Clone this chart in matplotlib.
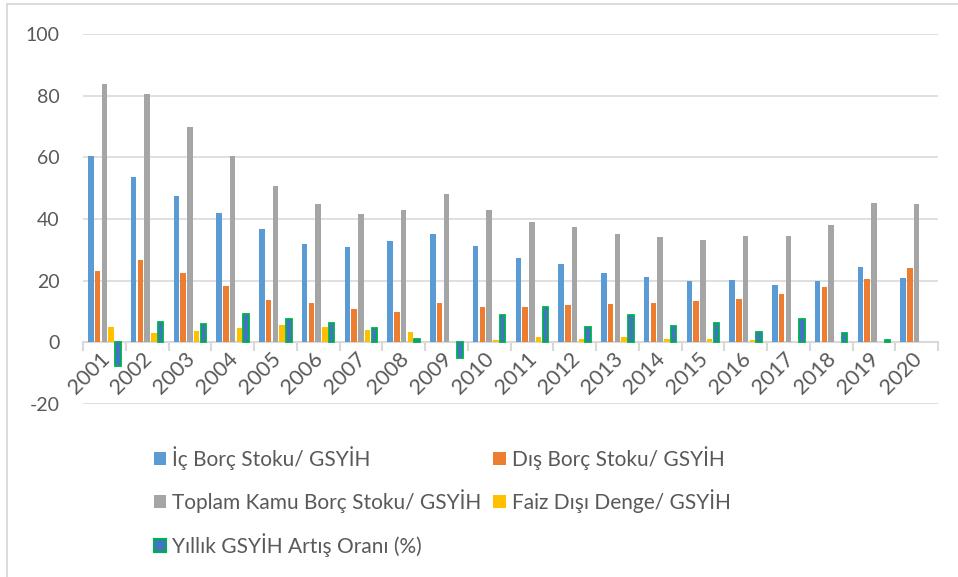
import matplotlib
matplotlib.use("Agg")
import matplotlib.pyplot as plt
import numpy as np
from matplotlib.lines import Line2D
from matplotlib.patches import Patch

years = ["2001", "2002", "2003", "2004", "2005", "2006", "2007", "2008", "2009", "2010",
         "2011", "2012", "2013", "2014", "2015", "2016", "2017", "2018", "2019", "2020"]

ic_borc = [60.4, 53.5, 47.4, 41.9, 36.9, 32.0, 30.8, 32.8, 35.0, 31.4,
           27.4, 25.3, 22.6, 21.3, 19.9, 20.3, 18.6, 20.0, 24.4, 21.0]
dis_borc = [23.2, 26.8, 22.5, 18.4, 13.8, 12.7, 10.7, 10.0, 12.9, 11.3,
            11.3, 12.0, 12.3, 12.9, 13.4, 14.2, 15.8, 17.9, 20.6, 24.1]
toplam_borc = [83.9, 80.6, 69.9, 60.4, 50.7, 44.8, 41.6, 43.0, 48.0, 43.0,
               38.9, 37.5, 35.1, 34.3, 33.3, 34.5, 34.5, 37.9, 45.2, 45.0]
faiz_disi = [5.0, 3.1, 3.8, 4.6, 5.7, 5.1, 3.9, 3.2, 0.1, 0.6,
             1.6, 1.0, 1.6, 1.2, 1.2, 0.6, 0.2, 0.0, 0.0, 0.0]
gsyih_artis = [-7.8, 6.5, 5.9, 9.1, 7.6, 6.3, 4.8, 1.0, -5.0, 8.8,
               11.3, 5.0, 8.8, 5.4, 6.3, 3.3, 7.7, 3.0, 0.9, 0.0]

labels = ["İç Borç Stoku/ GSYİH", "Dış Borç Stoku/ GSYİH",
          "Toplam Kamu Borç Stoku/ GSYİH", "Faiz Dışı Denge/ GSYİH",
          "Yıllık GSYİH Artış Oranı (%)"]
y_ticks = [-20, 0, 20, 40, 60, 80, 100]

W, H = 958, 577
fig = plt.figure(figsize=(W / 100, H / 100), dpi=100)
plt.rcParams['font.family'] = ['Lato', 'DejaVu Sans']
txt = "#595959"
grid_c = "#D9D9D9"

ax = fig.add_axes([83 / W, 1 - 404 / H, (938 - 83) / W, (404 - 34) / H])
x = np.arange(len(years))
step = 0.157
bw = 0.128
series = [ic_borc, dis_borc, toplam_borc, faiz_disi, gsyih_artis]
fills = ["#5B9BD5", "#ED7D31", "#A5A5A5", "#FFC000", "#4472C4"]
edges = ["#5B9BD5", "#ED7D31", "#A5A5A5", "#FFC000", "#00B050"]
lws = [0, 0, 0, 0, 1.3]
for i, (vals, fc, ec, lw) in enumerate(zip(series, fills, edges, lws)):
    v = np.asarray(vals, dtype=float)
    lw_arr = np.where(v == 0, 0.0, lw)
    ax.bar(x + (i - 2) * step, v, width=bw, color=fc, edgecolor=ec,
           linewidth=lw_arr, zorder=3)

ax.set_xlim(-0.5, len(years) - 0.5)
ax.set_ylim(-20, 100)
ax.set_yticks(y_ticks)
ax.set_yticklabels([str(v) for v in y_ticks], fontsize=14, color=txt)
ax.tick_params(axis='y', length=0, pad=17)
ax.yaxis.grid(True, color=grid_c, linewidth=1.2, zorder=0)
for s in ax.spines.values():
    s.set_visible(False)

# zero axis line with boundary ticks
ax.axhline(0, color=grid_c, linewidth=1.5, zorder=2)
for b in np.arange(-0.5, len(years), 1.0):
    ax.plot([b, b], [0, -2.6], color=grid_c, linewidth=1.5, zorder=2, clip_on=False)

ax.set_xticks([])
for xi, lab in zip(x, years):
    ax.annotate(lab, xy=(xi, 0), xytext=(1.5, -9.5), textcoords='offset points',
                rotation=45, rotation_mode='anchor', ha='right', va='center',
                fontsize=15.5, color=txt, annotation_clip=False)

handles = [Patch(facecolor=fc, edgecolor=ec, linewidth=lw * 1.2)
           for fc, ec, lw in zip(fills, edges, lws)]
order = [0, 2, 4, 1, 3]
leg = fig.legend([handles[k] for k in order], [labels[k] for k in order],
                 ncol=2, loc='upper left',
                 bbox_to_anchor=(135 / W, 1 - 427 / H), frameon=False,
                 fontsize=15, labelcolor=txt, handlelength=0.6,
                 handleheight=0.6, handletextpad=0.3, columnspacing=0.55,
                 labelspacing=0.95)

# outer frame (top and left)
fig.add_artist(Line2D([7 / W, 1], [1 - 4 / H, 1 - 4 / H], color=grid_c, linewidth=1.3))
fig.add_artist(Line2D([7 / W, 7 / W], [0, 1 - 4 / H], color=grid_c, linewidth=1.3))

fig.savefig("out.png", dpi=100, facecolor="white")
